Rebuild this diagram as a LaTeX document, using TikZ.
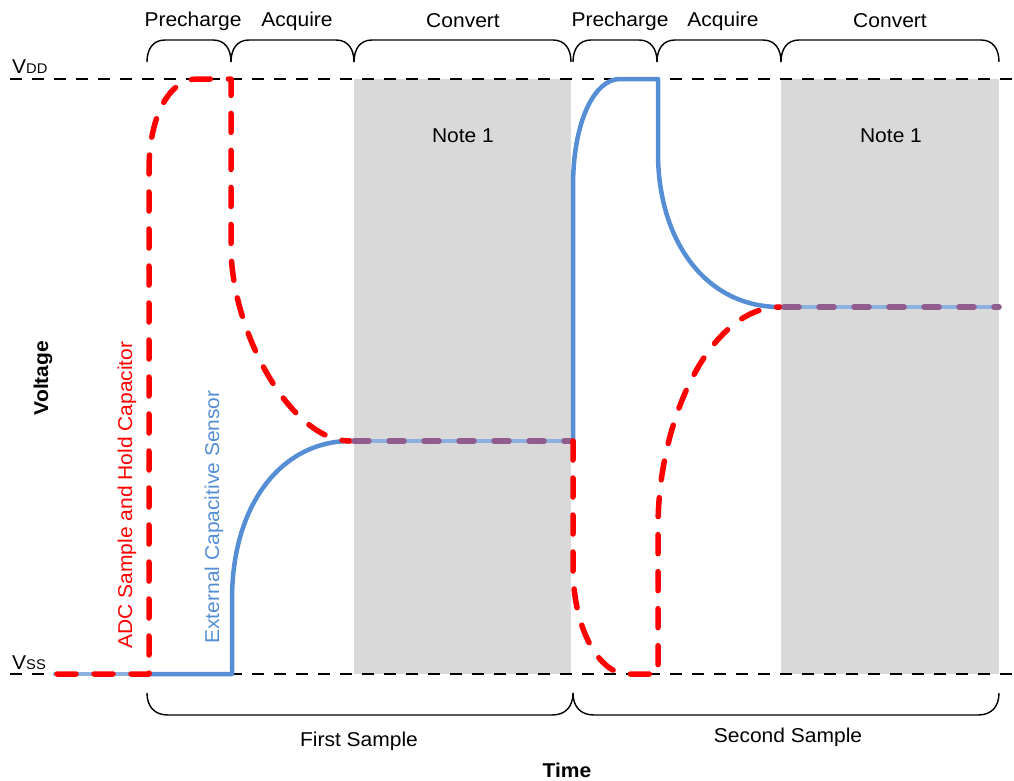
\documentclass[tikz,border=0pt]{standalone}
\usepackage{fontspec}
\setmainfont[FakeStretch=1.05]{Liberation Sans}
\definecolor{sensorblue}{HTML}{558ED5}
\definecolor{lightblue}{HTML}{8CB0E0}
\definecolor{adcred}{HTML}{FF0000}
\definecolor{mixpurple}{HTML}{915C8E}
\definecolor{notegray}{HTML}{D9D9D9}
\begin{document}
\begin{tikzpicture}[x=1pt,y=-1pt,
  lbl/.style={font=\fontsize{20}{24}\selectfont, inner sep=0pt},
  boldlbl/.style={font=\fontsize{20}{24}\selectfont\bfseries, inner sep=0pt},
  railline/.style={black, line width=1.4pt, dash pattern=on 12pt off 10pt},
  bracelineA/.style={black, line width=1.4pt},
  sensorline/.style={sensorblue, line width=4.5pt, line join=round, line cap=round},
  overlapblue/.style={lightblue, line width=4.5pt, line cap=round},
  adcline/.style={adcred, line width=5.5pt, line cap=round, line join=round, dash pattern=on 19pt off 18pt},
  mixline/.style={mixpurple, line width=5.5pt, line cap=round, dash pattern=on 15pt off 20pt, dash phase=-4pt},
  notebox/.style={fill=notegray, draw=none}
]
\useasboundingbox (0,0) rectangle (1014,780);

% grey convert regions
\fill[notebox] (354,79) rectangle (571,674);
\fill[notebox] (781,79) rectangle (999,674);

% supply rails
\coordinate (vddL) at (10,79);  \coordinate (vddR) at (1014,79);
\coordinate (vssL) at (10,674); \coordinate (vssR) at (1014,674);
\draw[railline] (vddL) -- (vddR);
\draw[railline] (vssL) -- (vssR);

% top braces
\foreach \a/\b in {147/231, 231/354, 354/571, 573/657, 657/781, 781/999}{
  \draw[bracelineA] (\a,62) .. controls (\a,49) and (\a+6,40) .. (\a+18,40) -- (\b-18,40) .. controls (\b-6,40) and (\b,49) .. (\b,62);
}
% bottom braces
\foreach \a/\b in {147/573, 573/999}{
  \draw[bracelineA] (\a,693) .. controls (\a,706) and (\a+7,715) .. (\a+21,715) -- (\b-21,715) .. controls (\b-7,715) and (\b,706) .. (\b,693);
}

% sensor (blue) curve
\coordinate (s0) at (55,674);
\coordinate (s1) at (149,674);
\coordinate (s2) at (232,674);
\coordinate (s3) at (350,441);
\coordinate (s4) at (573,441);
\coordinate (s5) at (620,79);
\coordinate (s6) at (658,79);
\coordinate (s7) at (780,307);
\coordinate (s8) at (999,307);
\draw[overlapblue] (s0) -- (s1);
\draw[overlapblue] (s3) -- (s4);
\draw[overlapblue] (s7) -- (s8);
\draw[sensorline] (s1) -- (s2) -- (232,600) .. controls (232,500) and (285,441) .. (s3);
\draw[sensorline] (s4) -- (573,187) .. controls (573,120) and (595,79) .. (s5) -- (s6) -- (658,153) .. controls (658,240) and (705,307) .. (s7);

% ADC sample and hold (red dashed) curve
\coordinate (r0) at (57,674);
\coordinate (r1) at (149,674);
\coordinate (r2) at (197,79);
\coordinate (r3) at (231,79);
\coordinate (r4) at (573,441);
\coordinate (r5) at (627,674);
\coordinate (r6) at (658,674);
\draw[adcline] (r0) -- (r1) -- (149,170) .. controls (149,115) and (170,79) .. (r2) -- (r3) -- (231,247) .. controls (231,330) and (290,441) .. (s3);
\draw[mixline] (s3) -- (s4);
\draw[adcline] (r4) -- (573,567) .. controls (573,630) and (600,674) .. (r5) -- (r6) -- (658,527) .. controls (658,420) and (710,307) .. (s7);
\draw[mixline] (s7) -- (s8);

% labels
\node[lbl, anchor=base west] (vddlbl) at (12,73) {V{\fontsize{14}{14}\selectfont DD}};
\node[lbl, anchor=base west] (vsslbl) at (12,669) {V{\fontsize{14}{14}\selectfont SS}};
\node[lbl, anchor=base] (pc1) at (193,26) {Precharge};
\node[lbl, anchor=base] (aq1) at (297,26) {Acquire};
\node[lbl, anchor=base] (cv1) at (463,27) {Convert};
\node[lbl, anchor=base] (pc2) at (620,26) {Precharge};
\node[lbl, anchor=base] (aq2) at (723,26) {Acquire};
\node[lbl, anchor=base] (cv2) at (890,27) {Convert};
\node[lbl, anchor=base] (n1) at (463,142) {Note 1};
\node[lbl, anchor=base] (n2) at (891,142) {Note 1};
\node[lbl, anchor=base] (fs) at (359,746) {First Sample};
\node[lbl, anchor=base] (ss) at (788,742) {Second Sample};
\node[boldlbl, anchor=base] (tm) at (567,777) {Time};
\node[boldlbl, rotate=90] (vl) at (43,378) {Voltage};
\node[lbl, rotate=90, text=adcred] (adclbl) at (127,495) {ADC Sample and Hold Capacitor};
\node[lbl, rotate=90, text=sensorblue] (senslbl) at (214,517) {External Capacitive Sensor};
\end{tikzpicture}
\end{document}
